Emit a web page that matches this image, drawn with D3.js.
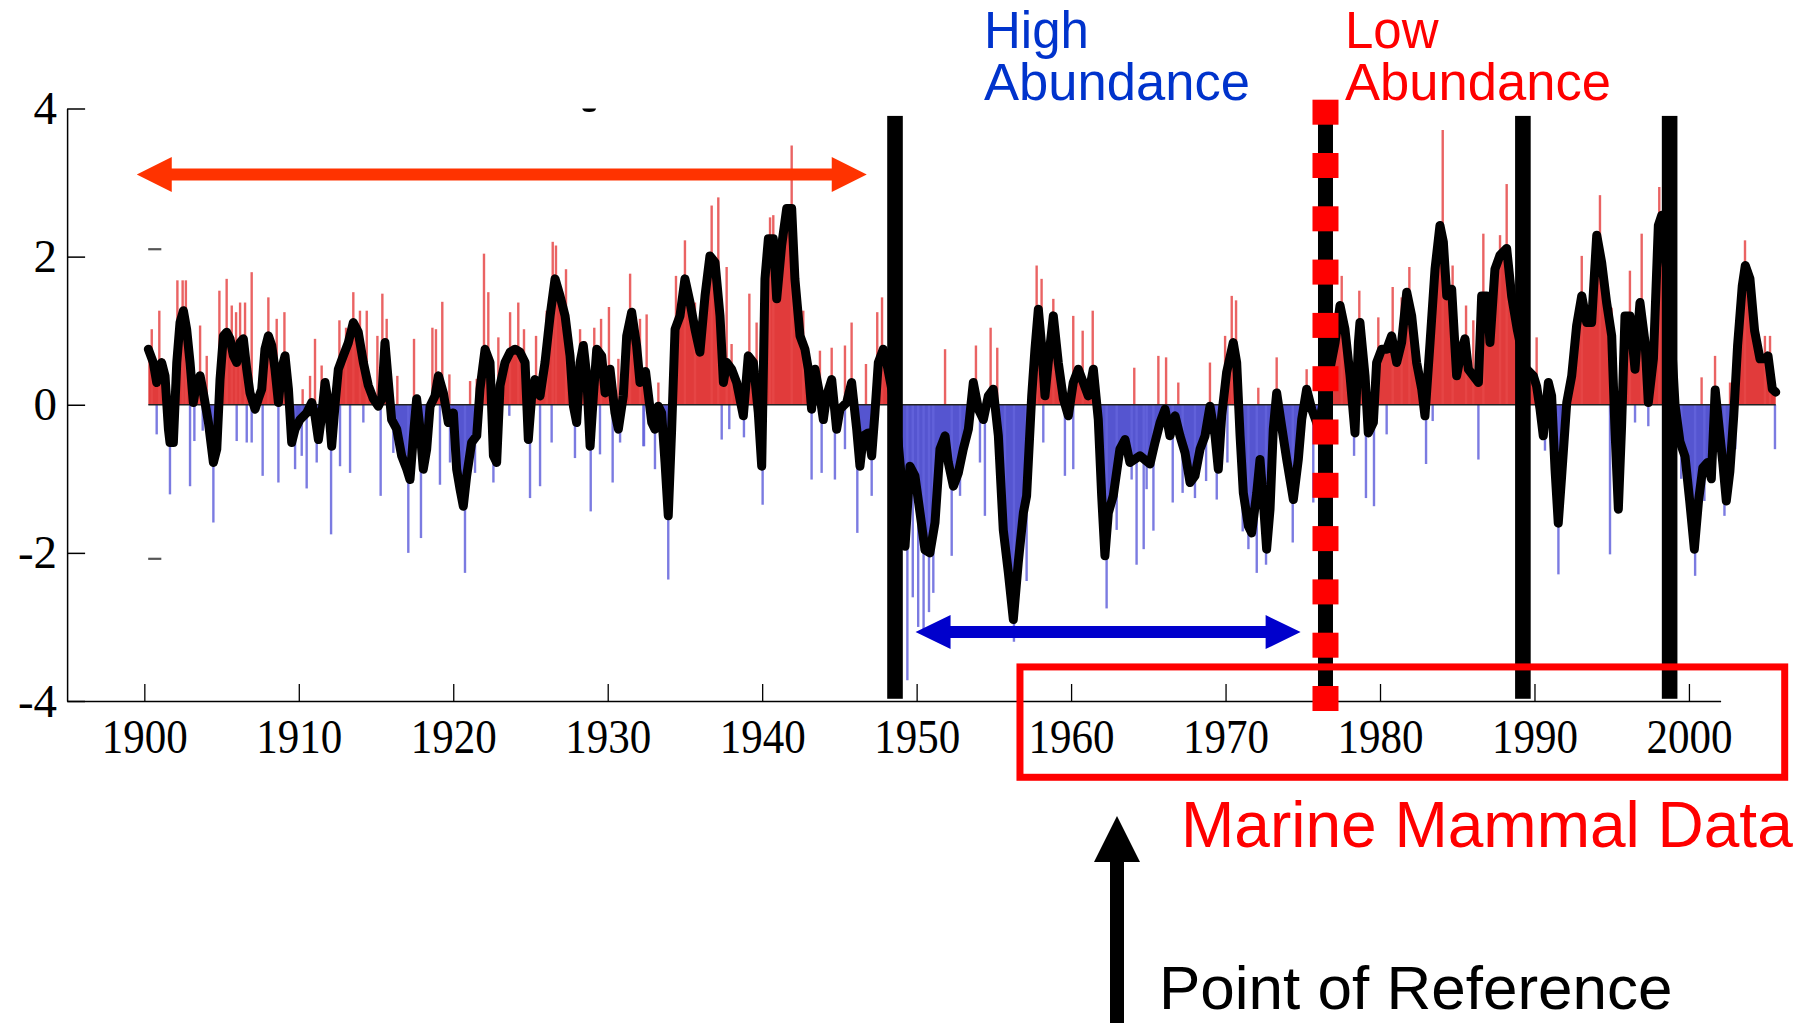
<!DOCTYPE html>
<html><head><meta charset="utf-8">
<script src="https://cdn.jsdelivr.net/npm/d3@7"></script>
<style>html,body{margin:0;padding:0;background:#fff}svg{display:block}</style>
</head><body>
<svg id="chart" width="1807" height="1023"></svg>
<script>
// ---- data ----
const smoothYears = [
1900.26,1900.58,1900.80,1901.12,1901.34,1901.56,1901.66,1901.88,1902.10,1902.31,1902.53,1902.74,1902.96,1903.17,1903.39,1903.61,1903.82,1904.15,1904.47,1904.69,1904.90,1905.12,1905.33,1905.55,1905.77,1905.98,1906.20,1906.41,1906.63,1906.84,1907.17,1907.38,1907.60,1907.81,1908.03,1908.25,1908.46,1908.68,1908.89,1909.11,1909.33,1909.54,1909.76,1910.08,1910.51,1910.84,1911.05,1911.27,1911.48,1911.70,1911.91,1912.13,1912.36,1912.56,1912.88,1913.21,1913.53,1913.85,1914.18,1914.50,1914.83,1915.15,1915.37,1915.58,1915.80,1916.01,1916.34,1916.66,1916.99,1917.20,1917.42,1917.63,1917.85,1918.06,1918.28,1918.50,1918.82,1919.04,1919.36,1919.68,1920.01,1920.22,1920.44,1920.65,1920.87,1921.19,1921.52,1921.73,1922.06,1922.38,1922.60,1922.81,1923.03,1923.35,1923.68,1924.00,1924.32,1924.65,1924.86,1925.08,1925.29,1925.62,1925.94,1926.27,1926.59,1926.91,1927.24,1927.56,1927.78,1927.99,1928.21,1928.42,1928.64,1928.86,1929.07,1929.29,1929.61,1929.83,1930.15,1930.47,1930.69,1931.01,1931.23,1931.55,1931.87,1932.09,1932.45,1932.85,1933.06,1933.28,1933.49,1933.71,1933.92,1934.14,1934.36,1934.68,1935.00,1935.33,1935.65,1935.97,1936.30,1936.62,1936.95,1937.27,1937.49,1937.70,1938.02,1938.35,1938.78,1939.10,1939.43,1939.75,1939.97,1940.18,1940.40,1940.72,1940.94,1941.26,1941.59,1941.91,1942.12,1942.45,1942.77,1942.99,1943.20,1943.42,1943.74,1943.96,1944.17,1944.50,1944.82,1945.04,1945.47,1945.79,1946.12,1946.33,1946.55,1946.87,1947.09,1947.30,1947.52,1947.84,1948.06,1948.40,1948.80,1949.10,1949.25,1949.57,1949.89,1950.22,1950.54,1950.86,1951.19,1951.51,1951.84,1952.05,1952.38,1952.70,1953.02,1953.35,1953.67,1954.00,1954.32,1954.64,1954.96,1955.29,1955.61,1955.94,1956.26,1956.58,1956.91,1957.12,1957.45,1957.66,1957.88,1958.09,1958.31,1958.52,1958.85,1959.17,1959.50,1959.82,1960.14,1960.47,1960.79,1961.11,1961.44,1961.76,1961.98,1962.19,1962.41,1962.73,1963.16,1963.49,1963.81,1964.46,1965.11,1965.43,1965.76,1966.08,1966.40,1966.73,1967.05,1967.38,1967.70,1968.02,1968.35,1968.67,1968.99,1969.32,1969.53,1969.75,1970.07,1970.50,1970.72,1970.94,1971.15,1971.48,1971.69,1972.02,1972.23,1972.45,1972.66,1972.88,1973.09,1973.31,1973.63,1973.96,1974.39,1974.71,1974.93,1975.25,1975.58,1976.00,1976.50,1977.09,1977.41,1977.73,1978.06,1978.38,1978.60,1978.70,1979.03,1979.24,1979.57,1979.78,1980.11,1980.43,1980.75,1981.08,1981.40,1981.73,1982.05,1982.37,1982.70,1982.91,1983.24,1983.56,1983.88,1984.10,1984.32,1984.64,1984.96,1985.29,1985.50,1985.72,1986.04,1986.37,1986.58,1986.91,1987.12,1987.44,1987.77,1988.20,1988.52,1988.90,1989.40,1989.93,1990.14,1990.36,1990.57,1990.90,1991.11,1991.33,1991.54,1991.76,1992.09,1992.41,1992.73,1993.06,1993.38,1993.70,1994.03,1994.35,1994.67,1995.00,1995.21,1995.43,1995.64,1995.86,1996.18,1996.51,1996.83,1997.16,1997.37,1997.70,1998.02,1998.24,1998.70,1999.10,1999.42,1999.75,2000.05,2000.35,2000.62,2000.90,2001.20,2001.45,2001.70,2001.95,2002.20,2002.42,2002.65,2002.90,2003.15,2003.45,2003.65,2003.95,2004.25,2004.60,2004.90,2005.12,2005.40,2005.62];
const smoothValues = [
0.75,0.57,0.30,0.57,0.39,-0.33,-0.51,-0.51,0.57,1.11,1.27,1.02,0.57,0.03,0.30,0.39,0.16,-0.24,-0.78,-0.60,0.34,0.93,0.98,0.89,0.66,0.57,0.84,0.89,0.48,0.16,-0.06,0.08,0.21,0.75,0.93,0.80,0.48,0.03,0.48,0.66,0.21,-0.51,-0.33,-0.20,-0.11,0.03,-0.15,-0.47,-0.15,0.30,0.03,-0.56,0.03,0.48,0.66,0.84,1.11,0.98,0.57,0.26,0.08,-0.02,0.08,0.84,0.30,-0.20,-0.33,-0.69,-0.87,-1.01,-0.42,0.08,-0.33,-0.87,-0.60,-0.02,0.12,0.39,0.16,-0.24,-0.11,-0.87,-1.14,-1.37,-0.96,-0.51,-0.42,0.21,0.75,0.57,-0.69,-0.78,0.26,0.57,0.71,0.75,0.71,0.57,-0.47,0.12,0.34,0.12,0.57,1.20,1.70,1.47,1.20,0.66,-0.02,-0.24,0.57,0.80,0.39,-0.56,0.12,0.75,0.66,0.16,0.48,-0.11,-0.33,0.12,0.93,1.25,0.80,0.30,0.45,-0.24,-0.33,-0.02,-0.11,-0.78,-1.50,-0.33,1.02,1.20,1.70,1.38,1.02,0.71,1.47,2.01,1.92,1.20,0.30,0.57,0.48,0.30,-0.15,0.66,0.57,-0.11,-0.83,1.70,2.24,2.24,1.43,2.15,2.65,2.65,1.70,0.93,0.75,0.48,-0.06,0.48,0.12,-0.20,0.12,0.34,-0.33,-0.06,0.03,0.30,-0.33,-0.83,-0.42,-0.38,-0.69,-0.11,0.57,0.75,0.57,0.20,-0.50,-1.20,-1.91,-0.83,-0.96,-1.46,-1.96,-2.00,-1.59,-0.60,-0.42,-0.78,-1.10,-0.92,-0.60,-0.33,0.30,-0.06,-0.20,0.12,0.21,-0.42,-1.69,-2.27,-2.90,-2.13,-1.46,-1.23,0.12,0.75,1.29,0.80,0.12,0.57,1.20,0.57,0.08,-0.15,0.30,0.48,0.30,0.12,0.48,-0.20,-1.23,-2.04,-1.46,-1.23,-0.60,-0.47,-0.78,-0.69,-0.80,-0.51,-0.24,-0.06,-0.42,-0.15,-0.42,-0.65,-1.05,-0.96,-0.60,-0.42,-0.02,-0.42,-0.87,-0.15,0.44,0.84,0.57,-0.42,-1.19,-1.64,-1.73,-1.19,-0.74,-1.32,-1.95,-1.41,-0.33,0.16,-0.29,-0.74,-1.28,-0.74,-0.20,0.21,-0.06,-0.30,0.20,0.84,1.34,1.02,0.39,-0.38,0.84,1.11,0.39,-0.38,-0.24,0.57,0.75,0.75,0.93,0.57,0.84,1.52,1.20,0.57,0.21,-0.15,0.84,1.83,2.42,2.20,1.47,1.56,0.39,0.75,0.89,0.48,0.39,0.30,1.47,1.47,0.84,1.83,2.02,2.11,1.47,1.00,0.50,0.39,0.25,-0.06,-0.42,0.30,0.12,-0.87,-1.60,-0.96,0.03,0.39,1.07,1.47,1.11,1.11,2.29,1.92,1.38,0.93,-0.33,-1.41,-0.29,1.20,1.20,0.48,1.38,0.84,0.03,0.62,2.42,2.56,1.50,0.00,-0.50,-0.70,-1.30,-1.95,-1.30,-0.85,-0.78,-1.00,0.20,-0.30,-0.80,-1.30,-0.90,-0.15,0.80,1.60,1.88,1.70,1.00,0.62,0.62,0.66,0.21,0.17];
const spikeYears = [
1900.48,1900.97,1901.23,1902.14,1902.48,1902.69,1903.61,1904.04,1904.86,1905.33,1905.66,1905.94,1906.20,1906.52,1906.95,1908.03,1908.57,1909.07,1910.25,1910.73,1911.05,1911.48,1912.63,1913.06,1913.53,1913.96,1914.40,1915.09,1915.41,1915.69,1916.38,1917.46,1918.65,1918.88,1919.29,1919.75,1921.09,1921.52,1921.99,1922.27,1922.92,1923.68,1924.21,1924.58,1925.36,1926.05,1926.44,1926.65,1927.30,1928.21,1928.53,1929.13,1929.57,1930.08,1930.69,1931.45,1932.09,1932.52,1933.28,1934.42,1935.00,1935.65,1936.73,1937.16,1937.70,1938.02,1939.17,1939.64,1940.51,1940.72,1941.91,1942.66,1943.74,1944.50,1945.36,1945.79,1946.72,1947.45,1947.76,1951.84,1953.84,1954.79,1955.22,1957.77,1958.09,1958.85,1960.14,1960.75,1961.40,1964.09,1965.65,1966.15,1966.94,1968.99,1969.97,1970.40,1970.68,1972.12,1973.31,1975.25,1977.52,1978.66,1979.89,1980.82,1981.40,1981.90,1984.06,1984.70,1985.57,1986.04,1986.69,1987.77,1988.20,1990.14,1993.06,1994.24,1994.99,1996.18,1996.94,1998.08,2000.82,2001.69,2002.66,2003.63,2004.92,2005.25,
1900.80,1901.66,1902.96,1903.24,1903.78,1904.47,1905.98,1906.63,1906.95,1907.66,1908.68,1909.76,1910.19,1910.51,1911.16,1912.09,1912.67,1913.32,1914.18,1915.30,1916.12,1917.09,1917.91,1918.39,1919.14,1919.79,1920.76,1921.41,1922.60,1923.63,1924.97,1925.62,1926.37,1927.88,1928.90,1929.50,1930.32,1930.80,1932.31,1932.35,1933.06,1933.92,1937.38,1937.87,1938.82,1940.03,1943.20,1943.85,1944.71,1945.36,1946.16,1947.09,1949.40,1949.75,1950.10,1950.45,1950.80,1951.08,1952.27,1952.81,1954.10,1954.42,1955.72,1956.30,1957.12,1958.20,1959.60,1960.14,1962.30,1962.95,1963.92,1964.24,1964.70,1964.89,1965.33,1966.58,1967.22,1968.02,1968.74,1969.43,1970.12,1971.11,1971.48,1972.02,1972.62,1974.35,1975.68,1978.32,1979.09,1979.61,1980.43,1982.98,1983.41,1986.37,1990.68,1991.55,1994.89,1996.51,1997.37,1999.50,2000.40,2001.00,2002.30,2003.00,2005.57];
const spikeValues = [
1.02,1.27,0.62,1.68,1.68,1.68,1.07,0.66,1.54,1.70,1.34,1.25,1.38,1.38,1.79,1.45,1.16,1.25,0.21,0.39,0.89,0.53,1.14,1.04,1.52,1.27,1.27,0.93,1.50,1.16,0.39,0.89,1.04,1.02,1.39,0.41,0.32,0.35,2.04,1.52,0.91,1.25,1.38,1.02,0.93,1.27,2.20,2.15,1.83,1.02,0.86,1.04,1.16,1.32,0.62,1.77,1.16,1.22,0.30,1.74,2.22,1.38,2.69,2.80,1.86,0.82,1.50,1.11,2.53,2.56,3.50,1.27,0.73,0.77,0.80,1.11,0.55,1.25,1.45,0.75,0.80,1.04,0.77,1.88,1.70,1.43,1.20,1.00,1.27,0.50,0.66,0.64,0.30,0.57,0.93,1.47,1.41,0.23,0.64,0.48,1.74,1.54,1.18,1.59,1.45,1.86,3.71,1.88,1.34,1.14,2.31,2.29,2.98,0.91,2.01,2.83,1.31,1.81,2.31,2.94,0.37,0.66,0.30,2.22,0.93,0.93,
-0.40,-1.21,-1.10,-0.49,-0.35,-1.59,-0.49,-0.51,-0.51,-0.96,-1.05,-0.87,-0.69,-1.13,-0.78,-1.75,-0.83,-0.92,-0.24,-1.23,-0.65,-2.00,-1.80,-0.60,-1.08,-0.78,-2.27,-0.92,-1.05,-0.15,-1.26,-1.10,-0.51,-0.72,-1.44,-0.67,-1.05,-0.51,-0.56,-0.56,-0.87,-2.36,-0.47,-0.33,-0.44,-1.35,-1.01,-0.92,-1.01,-0.60,-1.73,-1.23,-3.72,-2.60,-3.00,-3.10,-2.80,-2.54,-2.04,-1.23,-0.78,-1.50,-1.69,-3.20,-2.38,-0.51,-0.96,-0.87,-2.75,-1.69,-1.01,-2.16,-1.95,-1.14,-1.70,-1.32,-1.19,-1.26,-1.03,-1.28,-0.78,-1.71,-1.95,-2.27,-2.16,-1.86,-1.32,-0.69,-1.26,-1.37,-0.40,-0.80,-0.22,-0.74,-0.62,-2.29,-2.02,-0.24,-0.29,-1.00,-2.31,-1.30,-1.50,-0.60,-0.60];
const xTickYears = [1900,1910,1920,1930,1940,1950,1960,1970,1980,1990,2000];
const yTickValues = [4,2,0,-2,-4];
const shiftYears = [1948.6, 1989.25, 1998.75];
const dottedShiftYear = 1976.47;
const highLabel = ["High","Abundance"];
const lowLabel = ["Low","Abundance"];
const boxLabel = "Marine Mammal Data";
const pointLabel = "Point of Reference";

// ---- scales ----
const svg = d3.select("#chart");
svg.append("rect").attr("width",1807).attr("height",1023).attr("fill","#fff");
const x = d3.scaleLinear().domain([1895, 2002.05]).range([67.1, 1720.6]);
const y = d3.scaleLinear().domain([4, -4]).range([108.5, 701]);
const series = smoothYears.map((t,i)=>({t, v: smoothValues[i]}));
const spikes = spikeYears.map((t,i)=>({t, v: spikeValues[i]}));

const defs = svg.append("defs");
defs.append("clipPath").attr("id","above").append("rect")
  .attr("x",0).attr("y",0).attr("width",1807).attr("height",y(0));
defs.append("clipPath").attr("id","below").append("rect")
  .attr("x",0).attr("y",y(0)).attr("width",1807).attr("height",1023-y(0));

const area = d3.area().x(d=>x(d.t)).y0(y(0)).y1(d=>y(d.v));
svg.append("path").datum(series).attr("d",area).attr("fill","#e13b3b").attr("clip-path","url(#above)");
svg.append("path").datum(series).attr("d",area).attr("fill","#5555d0").attr("clip-path","url(#below)");

svg.append("g").selectAll("line").data(spikes).join("line")
  .attr("x1",d=>x(d.t)).attr("x2",d=>x(d.t))
  .attr("y1",y(0)).attr("y2",d=>y(d.v))
  .attr("stroke",d=>d.v>0?"#e64848":"#6464dc")
  .attr("stroke-opacity",0.85).attr("stroke-width",2.4);

// zero line
svg.append("line").attr("x1",x(smoothYears[0])).attr("x2",x(smoothYears[smoothYears.length-1]))
  .attr("y1",y(0)).attr("y2",y(0)).attr("stroke","#222").attr("stroke-width",1.6);

// smoothed black line
svg.append("path").datum(series)
  .attr("d",d3.line().x(d=>x(d.t)).y(d=>y(d.v)))
  .attr("fill","none").attr("stroke","#000").attr("stroke-width",9)
  .attr("stroke-linejoin","round").attr("stroke-linecap","round");

// ---- axes ----
const yAxis = d3.axisLeft(y).tickValues(yTickValues).tickFormat(d=>String(d))
  .tickSize(-18).tickSizeOuter(0).tickPadding(10);
const gy = svg.append("g").attr("transform",`translate(${x(1895)},0)`).call(yAxis);
gy.selectAll("text").attr("font-family","'Liberation Serif', 'Times New Roman', serif")
  .attr("font-size",47).attr("fill","#000");
gy.selectAll("line,path").attr("stroke","#000").attr("stroke-width",1.5);

const xAxis = d3.axisBottom(x).tickValues(xTickYears).tickFormat(d=>String(d))
  .tickSize(-17).tickSizeOuter(0).tickPadding(17);
const gx = svg.append("g").attr("transform",`translate(0,${y(-4)})`).call(xAxis);
gx.selectAll("text").attr("font-family","'Liberation Serif', 'Times New Roman', serif")
  .attr("font-size",49).attr("fill","#000")
  .attr("textLength",86).attr("lengthAdjust","spacingAndGlyphs");
gx.selectAll("line").attr("stroke","#000").attr("stroke-width",1.3);
gx.select("path.domain").attr("stroke","#000").attr("stroke-width",1.6);

// stray marks of the original figure
svg.append("line").attr("x1",x(1900.25)).attr("x2",x(1901.1)).attr("y1",y(2.1)).attr("y2",y(2.1)).attr("stroke","#555").attr("stroke-width",2.2);
svg.append("line").attr("x1",x(1900.25)).attr("x2",x(1901.1)).attr("y1",y(-2.08)).attr("y2",y(-2.08)).attr("stroke","#555").attr("stroke-width",2.2);
svg.append("path").attr("d",`M${x(1928.35)},${y(4.0)} A7,4 0 0 0 ${x(1929.25)},${y(4.0)} Z`).attr("fill","#000");

// ---- regime-shift bars ----
svg.append("g").selectAll("rect").data(shiftYears).join("rect")
  .attr("x",d=>x(d)-7.8).attr("width",15.6)
  .attr("y",y(3.9)).attr("height",y(-3.97)-y(3.9)).attr("fill","#000");
svg.append("rect").attr("x",x(dottedShiftYear)-7.5).attr("width",15)
  .attr("y",y(3.97)).attr("height",y(-3.94)-y(3.97)).attr("fill","#000");
svg.append("g").selectAll("rect").data(d3.range(12)).join("rect")
  .attr("x",x(dottedShiftYear)-13).attr("width",26)
  .attr("y",i=>y(3.95)-12.5+i*53.3).attr("height",25).attr("fill","#ff0000");

// ---- double arrows ----
function doubleArrow(x1,x2,yc,color,shaft,hl,hh){
  const h=shaft/2, H=hh/2;
  const p = `M${x1},${yc} L${x1+hl},${yc-H} L${x1+hl},${yc-h} L${x2-hl},${yc-h} L${x2-hl},${yc-H} L${x2},${yc} L${x2-hl},${yc+H} L${x2-hl},${yc+h} L${x1+hl},${yc+h} L${x1+hl},${yc+H} Z`;
  svg.append("path").attr("d",p).attr("fill",color);
}
doubleArrow(x(1899.51), x(1946.77), y(3.11), "#ff3300", 12, 35, 35);
doubleArrow(x(1949.93), x(1974.86), y(-3.07), "#0000cc", 12, 35, 34);

// ---- marine mammal data box ----
const sans = "'Liberation Sans', Arial, sans-serif";
svg.append("rect").attr("x",x(1956.69)).attr("y",y(-3.54))
  .attr("width",x(2006.2)-x(1956.69)).attr("height",y(-5.03)-y(-3.54))
  .attr("fill","none").attr("stroke","#ff0000").attr("stroke-width",7);
svg.append("text").attr("x",1181).attr("y",847).text(boxLabel)
  .attr("font-family",sans).attr("font-size",64)
  .attr("fill","#ff0000");

// ---- abundance labels ----
function twoLine(lines, xPos, color){
  const t = svg.append("text").attr("x",xPos).attr("y",48)
    .attr("font-family",sans).attr("font-size",51).attr("fill",color);
  lines.forEach((s,i)=>{
    const ts = t.append("tspan").attr("x",xPos).attr("dy",i===0?0:52).text(s);
    if (i===1) ts.attr("textLength",266).attr("lengthAdjust","spacingAndGlyphs");
  });
}
twoLine(highLabel, 984, "#0033cc");
twoLine(lowLabel, 1345, "#ff0000");

// ---- point of reference arrow ----
const ax = 1117;
svg.append("path").attr("d",`M${ax},816 L${ax+23},862 L${ax+7},862 L${ax+7},1023 L${ax-7},1023 L${ax-7},862 L${ax-23},862 Z`).attr("fill","#000");
svg.append("text").attr("x",1159).attr("y",1009).text(pointLabel)
  .attr("font-family",sans).attr("font-size",62).attr("fill","#000");
</script>
</body></html>
